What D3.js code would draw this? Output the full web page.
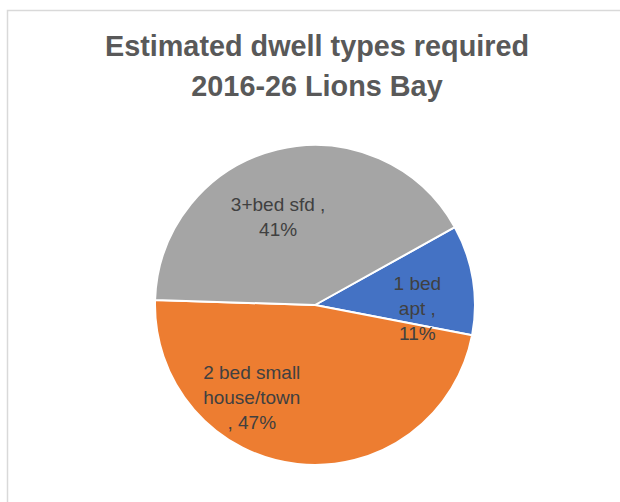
<!DOCTYPE html>
<html>
<head>
<meta charset="utf-8">
<script src="https://cdn.jsdelivr.net/npm/d3@7"></script>
<style>
  html, body { margin: 0; padding: 0; background: #ffffff; }
  svg { display: block; }
</style>
</head>
<body>
<script>
// ---- data ----
const titleLines = ["Estimated dwell types required", "2016-26 Lions Bay"];
const categories = ["1 bed apt", "2 bed small house/town", "3+bed sfd"];
const values = [11, 47, 41];
const labelLines = [["1 bed", "apt ,", "11%"], ["2 bed small", "house/town", ", 47%"], ["3+bed sfd ,", "41%"]];
const colors = ["#4472C4", "#ED7D31", "#A5A5A5"];
// label placement within each slice: fraction along the slice angle, fraction of radius
const labelAlong = [0.78, 0.664, 0.44];
const labelRadius = [0.64, 0.70, 0.60];

const W = 620, H = 502;
const cx = 315, cy = 305, R = 160;
const startDeg = 60.9;

const svg = d3.select("body").append("svg").attr("width", W).attr("height", H);
svg.append("rect").attr("width", W).attr("height", H).attr("fill", "#fff");

// chart frame (only top/left visible in reference)
svg.append("rect")
  .attr("x", 7.5).attr("y", 10.5).attr("width", W + 20).attr("height", H + 40)
  .attr("fill", "#fff").attr("stroke", "#d9d9d9").attr("stroke-width", 1.5);

// title
svg.append("g").selectAll("text").data(titleLines).join("text")
  .attr("x", 317)
  .attr("y", (d, i) => 56 + i * 40)
  .attr("text-anchor", "middle")
  .attr("font-family", "'Liberation Sans', Arial, sans-serif")
  .attr("font-weight", "bold")
  .attr("font-size", 28.8)
  .attr("fill", "#595959")
  .text(d => d);

const pie = d3.pie().sort(null)
  .startAngle(startDeg * Math.PI / 180)
  .endAngle(startDeg * Math.PI / 180 + 2 * Math.PI);
const arcs = pie(values);
const arc = d3.arc().innerRadius(0).outerRadius(R);

const g = svg.append("g").attr("transform", `translate(${cx},${cy})`);
g.selectAll("path").data(arcs).join("path")
  .attr("d", arc)
  .attr("fill", (d, i) => colors[i])
  .attr("stroke", "#fff")
  .attr("stroke-width", 2)
  .attr("stroke-linejoin", "round");

// labels
const lineH = 25;
const lg = g.selectAll("g.lbl").data(arcs).join("g").attr("class", "lbl")
  .attr("transform", (d, i) => {
    const a = d.startAngle + (d.endAngle - d.startAngle) * labelAlong[i];
    const r = R * labelRadius[i];
    return `translate(${r * Math.sin(a)},${-r * Math.cos(a)})`;
  });
lg.each(function(d, i) {
  const lines = labelLines[i];
  const n = lines.length;
  d3.select(this).selectAll("text").data(lines).join("text")
    .attr("x", 0)
    .attr("y", (t, j) => (j - (n - 1) / 2) * lineH)
    .attr("dy", "0.35em")
    .attr("text-anchor", "middle")
    .attr("font-family", "'Liberation Sans', Arial, sans-serif")
    .attr("font-size", 19)
    .attr("fill", "#404040")
    .text(t => t);
});
</script>
</body>
</html>
